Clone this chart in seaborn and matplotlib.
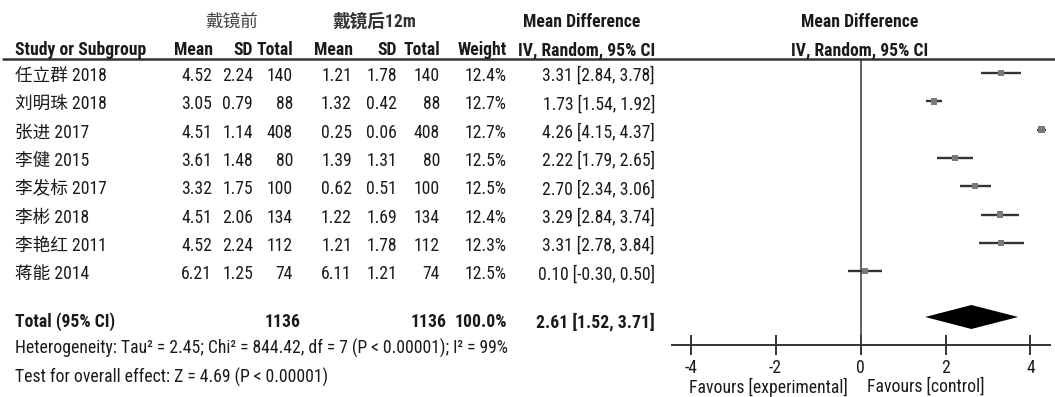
import matplotlib
matplotlib.use("Agg")
import matplotlib.pyplot as plt
from matplotlib import transforms
from matplotlib.lines import Line2D
import numpy as np
import pandas as pd
import seaborn as sns

# ---- data -------------------------------------------------------------
studies = ["任立群 2018", "刘明珠 2018", "张进 2017", "李健 2015",
           "李发标 2017", "李彬 2018", "李艳红 2011", "蒋能 2014"]
pre_mean = [4.52, 3.05, 4.51, 3.61, 3.32, 4.51, 4.52, 6.21]
pre_sd = [2.24, 0.79, 1.14, 1.48, 1.75, 2.06, 2.24, 1.25]
pre_n = [140, 88, 408, 80, 100, 134, 112, 74]
post_mean = [1.21, 1.32, 0.25, 1.39, 0.62, 1.22, 1.21, 6.11]
post_sd = [1.78, 0.42, 0.06, 1.31, 0.51, 1.69, 1.78, 1.21]
post_n = [140, 88, 408, 80, 100, 134, 112, 74]
weights = [12.4, 12.7, 12.7, 12.5, 12.5, 12.4, 12.3, 12.5]
md = [3.31, 1.73, 4.26, 2.22, 2.70, 3.29, 3.31, 0.10]
ci_low = [2.84, 1.54, 4.15, 1.79, 2.34, 2.84, 2.78, -0.30]
ci_high = [3.78, 1.92, 4.37, 2.65, 3.06, 3.74, 3.84, 0.50]

total_pre_n = 1136
total_post_n = 1136
total_weight = 100.0
pooled_md = 2.61
pooled_low = 1.52
pooled_high = 3.71

heterogeneity = "Heterogeneity: Tau² = 2.45; Chi² = 844.42, df = 7 (P < 0.00001); I² = 99%"
overall_test = "Test for overall effect: Z = 4.69 (P < 0.00001)"
x_ticks = [-4, -2, 0, 2, 4]

# ---- style ------------------------------------------------------------
sns.set_theme(style="white")
plt.rcParams["font.family"] = ["Roboto Condensed", "Noto Sans CJK SC", "DejaVu Sans"]
plt.rcParams["axes.unicode_minus"] = False

W, H = 1055, 397
FS = 12.7
TXT = "#1a1a1a"

fig = plt.figure(figsize=(W / 100, H / 100), dpi=100)


def px(x):
    return x / W


# forest panel: rows are 28.3 px apart, first study row at y=73 px
row_px, row0 = 28.3, 73.0
top_px, axis_px = 59.0, 345.0
x_left_px, x_right_px = 672.0, 1050.0
ax = fig.add_axes([px(x_left_px), 1 - axis_px / H,
                   (x_right_px - x_left_px) / W, (axis_px - top_px) / H])
ax.set_xlim(-4.44, 4.46)
ax.set_ylim((axis_px - row0) / row_px, (top_px - row0) / row_px)

df = pd.DataFrame({"study": studies, "md": md, "lo": ci_low, "hi": ci_high,
                   "w": weights, "row": np.arange(len(studies))})

ax.axvline(0, color="#444444", lw=1.2, zorder=1)
ax.hlines(df["row"], df["lo"], df["hi"], color="#333333", lw=1.7, zorder=2)
sns.scatterplot(data=df, x="md", y="row", size="w", sizes=(18, 22), marker="s",
                color="#7a7a7a", edgecolor="none", legend=False, ax=ax, zorder=3)

# pooled estimate diamond
d_row = (317 - row0) / row_px
d_half = 12 / row_px
ax.fill([pooled_low, pooled_md, pooled_high, pooled_md],
        [d_row, d_row - d_half, d_row, d_row + d_half], color="black", lw=0, zorder=3)

ax.set_xlabel("")
ax.set_ylabel("")
ax.set_yticks([])
ax.set_xticks(x_ticks)
ax.set_xticklabels([str(t) for t in x_ticks])
for s in ["top", "left", "right"]:
    ax.spines[s].set_visible(False)
ax.spines["bottom"].set_color("#333333")
ax.spines["bottom"].set_linewidth(1.4)
ax.tick_params(axis="x", direction="inout", length=14, width=1.4, color="#333333",
               labelsize=FS, labelcolor=TXT, pad=3, bottom=True)
ax.set_facecolor("none")
ax.patch.set_alpha(0)

# header rule across the full width
fig.add_artist(Line2D([px(3), 1.0], [1 - top_px / H] * 2, color="#333333", lw=1.8))

# ---- table text -------------------------------------------------------
tr = transforms.blended_transform_factory(fig.transFigure, ax.transData)


def y_of(p):
    return (p - row0) / row_px


def put(x, y, s, ha="right", weight="normal", color=TXT, size=FS):
    fig.text(px(x), y, s, transform=tr, ha=ha, va="center", fontsize=size,
             fontweight=weight, color=color)


# group headers
hy1, hy2 = y_of(22), y_of(50)
put(232, hy1, "戴镜前", ha="center", color="#444444")
put(374, hy1, "戴镜后12m", ha="center", weight="bold", color="#333333")
put(582, hy1, "Mean Difference", ha="center", weight="bold")
put(860, hy1, "Mean Difference", ha="center", weight="bold")

cols_hdr = [(15, "Study or Subgroup", "left"), (213, "Mean", "right"),
            (253, "SD", "right"), (293, "Total", "right"), (353, "Mean", "right"),
            (397, "SD", "right"), (440, "Total", "right"), (507, "Weight", "right"),
            (655, "IV, Random, 95% CI", "right")]
for x, s, ha in cols_hdr:
    put(x, hy2, s, ha=ha, weight="bold")
put(860, hy2, "IV, Random, 95% CI", ha="center", weight="bold")

# study rows
for i in range(len(studies)):
    y = i + 3 / row_px
    put(15, y, studies[i], ha="left")
    put(212, y, f"{pre_mean[i]:.2f}")
    put(253, y, f"{pre_sd[i]:.2f}")
    put(293, y, f"{pre_n[i]}")
    put(352, y, f"{post_mean[i]:.2f}")
    put(397, y, f"{post_sd[i]:.2f}")
    put(440, y, f"{post_n[i]}")
    put(507, y, f"{weights[i]:.1f}%")
    put(655, y, f"{md[i]:.2f} [{ci_low[i]:.2f}, {ci_high[i]:.2f}]")

# total row
ty = y_of(322)
put(15, ty, "Total (95% CI)", ha="left", weight="bold")
put(301, ty, f"{total_pre_n}", weight="bold")
put(447, ty, f"{total_post_n}", weight="bold")
put(507, ty, f"{total_weight:.1f}%", weight="bold")
put(655, ty, f"{pooled_md:.2f} [{pooled_low:.2f}, {pooled_high:.2f}]", weight="bold")

put(15, y_of(348), heterogeneity, ha="left")
put(15, y_of(377), overall_test, ha="left")

put(848, y_of(387), "Favours [experimental]", ha="right")
put(867, y_of(387), "Favours [control]", ha="left")

fig.savefig("out.png", dpi=100, facecolor="white")
